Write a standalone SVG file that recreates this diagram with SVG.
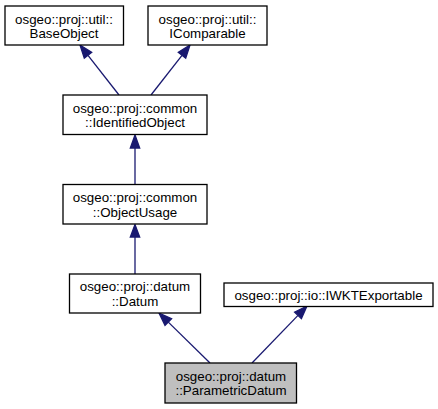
<svg xmlns="http://www.w3.org/2000/svg" width="438" height="409" viewBox="0 0 438 409">
<style>
rect.n{fill:#ffffff;stroke:#000000;stroke-width:1.3}
rect.cur{fill:#bfbfbf;stroke:#000000;stroke-width:1.3}
text{font-family:"Liberation Sans",Arial,sans-serif;font-size:13.33px;fill:#000000;text-anchor:middle}
.e line{stroke:#191970;stroke-width:1.3}
.e polygon{fill:#191970;stroke:#191970;stroke-width:1.3}
</style>
<rect width="438" height="409" fill="#ffffff"/>
<g class="e" id="edges">
<line x1="119" y1="95" x2="88" y2="55.3"/>
<polygon points="80,45 91.7,52.4 84.3,58.2"/>
<line x1="151" y1="95" x2="182" y2="55.3"/>
<polygon points="190,45 185.7,58.2 178.3,52.4"/>
<line x1="135" y1="184" x2="135" y2="148"/>
<polygon points="135,135 130.3,148 139.7,148"/>
<line x1="135" y1="274" x2="135" y2="237"/>
<polygon points="135,224.5 130.3,237 139.7,237"/>
<line x1="210" y1="363" x2="168.3" y2="322.1"/>
<polygon points="159,313 171.6,318.7 165,325.5"/>
<line x1="252" y1="363" x2="298" y2="315.4"/>
<polygon points="307,306 301.4,318.6 294.6,312.1"/>
</g>
<g id="BaseObject">
<rect class="n" x="5" y="6" width="118.5" height="39"/>
<text x="64" y="23.5">osgeo::proj::util::</text>
<text x="64" y="38">BaseObject</text>
</g>
<g id="IComparable">
<rect class="n" x="148" y="6" width="119" height="39"/>
<text x="207.5" y="23.5">osgeo::proj::util::</text>
<text x="207.5" y="38">IComparable</text>
</g>
<g id="IdentifiedObject">
<rect class="n" x="63" y="95" width="144" height="39.5"/>
<text x="135" y="112.5">osgeo::proj::common</text>
<text x="135" y="127">::IdentifiedObject</text>
</g>
<g id="ObjectUsage">
<rect class="n" x="63" y="184.5" width="144" height="39.5"/>
<text x="135" y="202">osgeo::proj::common</text>
<text x="135" y="216.5">::ObjectUsage</text>
</g>
<g id="Datum">
<rect class="n" x="69.5" y="274" width="131" height="39"/>
<text x="135" y="291">osgeo::proj::datum</text>
<text x="135" y="305.5">::Datum</text>
</g>
<g id="IWKTExportable">
<rect class="n" x="224" y="283" width="209" height="23.5"/>
<text x="328.5" y="299.5">osgeo::proj::io::IWKTExportable</text>
</g>
<g id="ParametricDatum">
<rect class="cur" x="165" y="363" width="131.5" height="40"/>
<text x="231" y="380.5">osgeo::proj::datum</text>
<text x="231" y="395">::ParametricDatum</text>
</g>
</svg>
